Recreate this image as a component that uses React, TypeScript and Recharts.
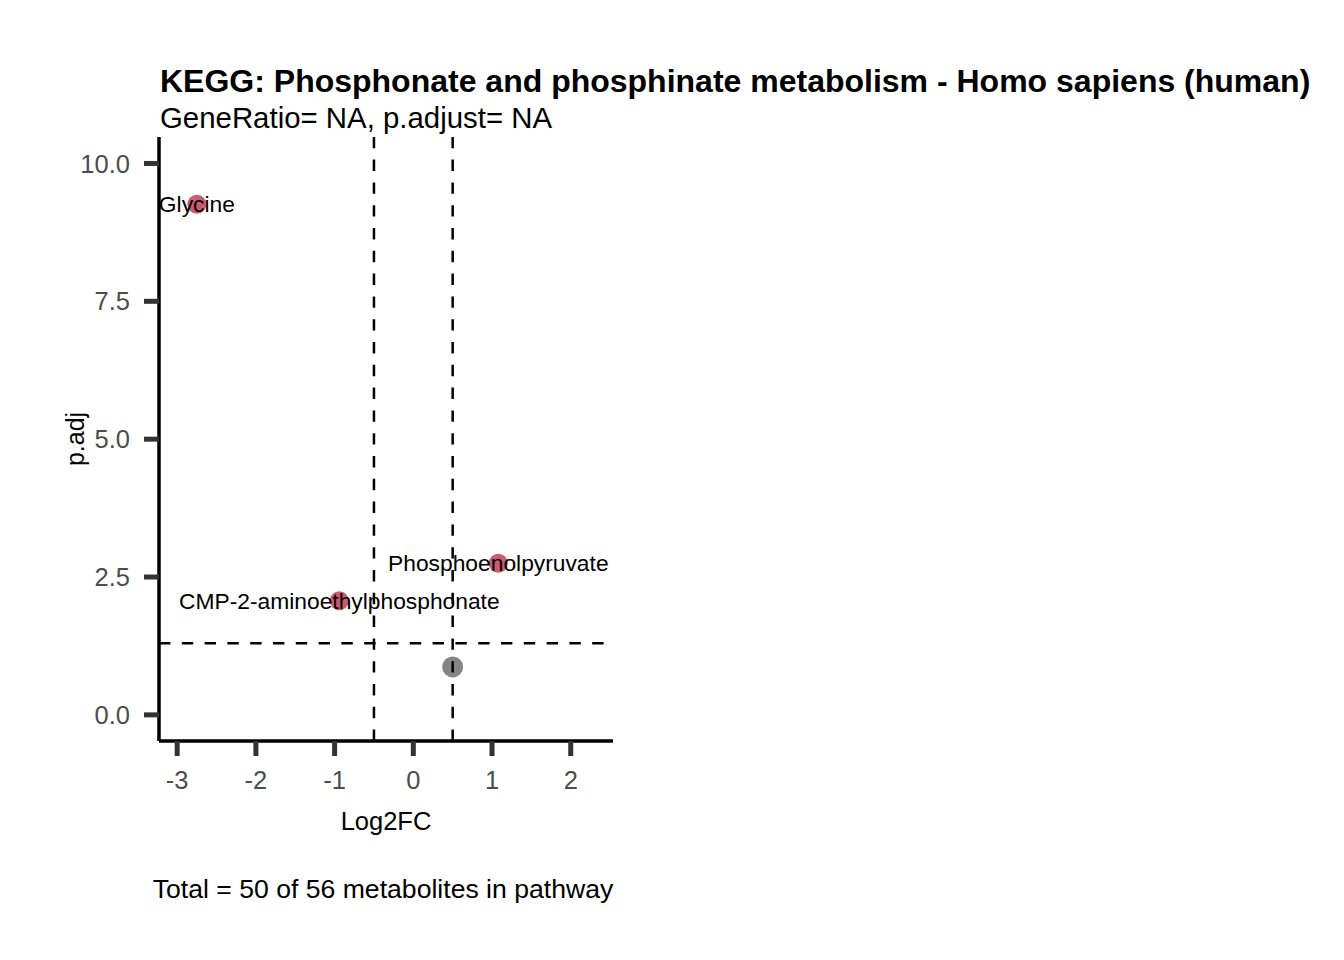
import { ReferenceLine, Scatter, ScatterChart, XAxis, YAxis } from "recharts"

const metabolites = ["Glycine", "Phosphoenolpyruvate", "CMP-2-aminoethylphosphonate", ""]
const log2fc = [-2.75, 1.08, -0.94, 0.5]
const padj = [9.26, 2.75, 2.07, 0.87]

const xTicks = [-3, -2, -1, 0, 1, 2]
const yTicks = [0, 2.5, 5, 7.5, 10]
const xLimits = [-3.231, 2.537]
const yLimits = [-0.474, 10.48]

const fcCut = 0.5
const pCut = -Math.log10(0.05)

const title = "KEGG: Phosphonate and phosphinate metabolism - Homo sapiens (human)"
const subtitle = "GeneRatio= NA, p.adjust= NA"
const caption = "Total = 50 of 56 metabolites in pathway"

const points = metabolites.map((name, i) => ({ name, fc: log2fc[i], p: padj[i] }))
const sig = points.filter((d) => d.p > pCut && Math.abs(d.fc) > fcCut)
const ns = points.filter((d) => !(d.p > pCut && Math.abs(d.fc) > fcCut))

const font = "'Liberation Sans', Arial, sans-serif"

const dot = (color: string, r: number, withLabel: boolean) => (props: any) => {
    const { cx, cy, payload } = props
    return (
        <g>
            <circle cx={cx} cy={cy} r={r} fill={color} />
            {withLabel && (
                <text x={cx} y={cy} dy="0.36em" textAnchor="middle" fontSize={22.8} fontFamily={font} fill="#000">
                    {payload.name}
                </text>
            )}
        </g>
    )
}

export default function App() {
    return (
        <div style={{ position: "absolute", left: 0, top: 0, width: 1344, height: 960, background: "#fff" }}>
            <ScatterChart width={1344} height={960} margin={{ top: 137, right: 731, bottom: 159, left: 79 }}>
                <XAxis
                    type="number"
                    dataKey="fc"
                    domain={xLimits}
                    ticks={xTicks}
                    allowDataOverflow
                    height={60}
                    tickSize={15}
                    tickMargin={15}
                    axisLine={{ stroke: "#000", strokeWidth: 3.5 }}
                    tickLine={{ stroke: "#333", strokeWidth: 5 }}
                    tick={{ fill: "#4d4d4d", fontSize: 25.5, fontFamily: font }}
                />
                <YAxis
                    type="number"
                    dataKey="p"
                    domain={yLimits}
                    ticks={yTicks}
                    allowDataOverflow
                    width={80}
                    tickSize={15}
                    tickMargin={14}
                    tickFormatter={(v) => v.toFixed(1)}
                    axisLine={{ stroke: "#000", strokeWidth: 3.5 }}
                    tickLine={{ stroke: "#333", strokeWidth: 5 }}
                    tick={{ fill: "#4d4d4d", fontSize: 25.5, fontFamily: font }}
                />
                <Scatter data={ns} fill="#858585" shape={dot("#858585", 10.5, false)} isAnimationActive={false} />
                <Scatter data={sig} fill="#C95C70" shape={dot("#C95C70", 9.5, true)} isAnimationActive={false} />
                <ReferenceLine x={-fcCut} stroke="#000" strokeWidth={2.5} strokeDasharray="11.4 11.4" zIndex={2000} />
                <ReferenceLine x={fcCut} stroke="#000" strokeWidth={2.5} strokeDasharray="11.4 11.4" zIndex={2000} />
                <ReferenceLine y={pCut} stroke="#000" strokeWidth={2.5} strokeDasharray="11.4 11.4" zIndex={2000} />
            </ScatterChart>
            <svg width={1344} height={960} style={{ position: "absolute", left: 0, top: 0, pointerEvents: "none" }}>
                <text x={160} y={91.5} fontSize={32} fontWeight="bold" fontFamily={font} fill="#000">{title}</text>
                <text x={160} y={127.5} fontSize={29.4} fontFamily={font} fill="#000">{subtitle}</text>
                <text x={386} y={830} fontSize={25.5} textAnchor="middle" fontFamily={font} fill="#000">Log2FC</text>
                <text x={75} y={439} fontSize={25} textAnchor="middle" dy="0.36em" fontFamily={font} fill="#000" transform="rotate(-90 75 439)">p.adj</text>
                <text x={383} y={897.5} fontSize={26.6} textAnchor="middle" fontFamily={font} fill="#000">{caption}</text>
            </svg>
        </div>
    )
}
